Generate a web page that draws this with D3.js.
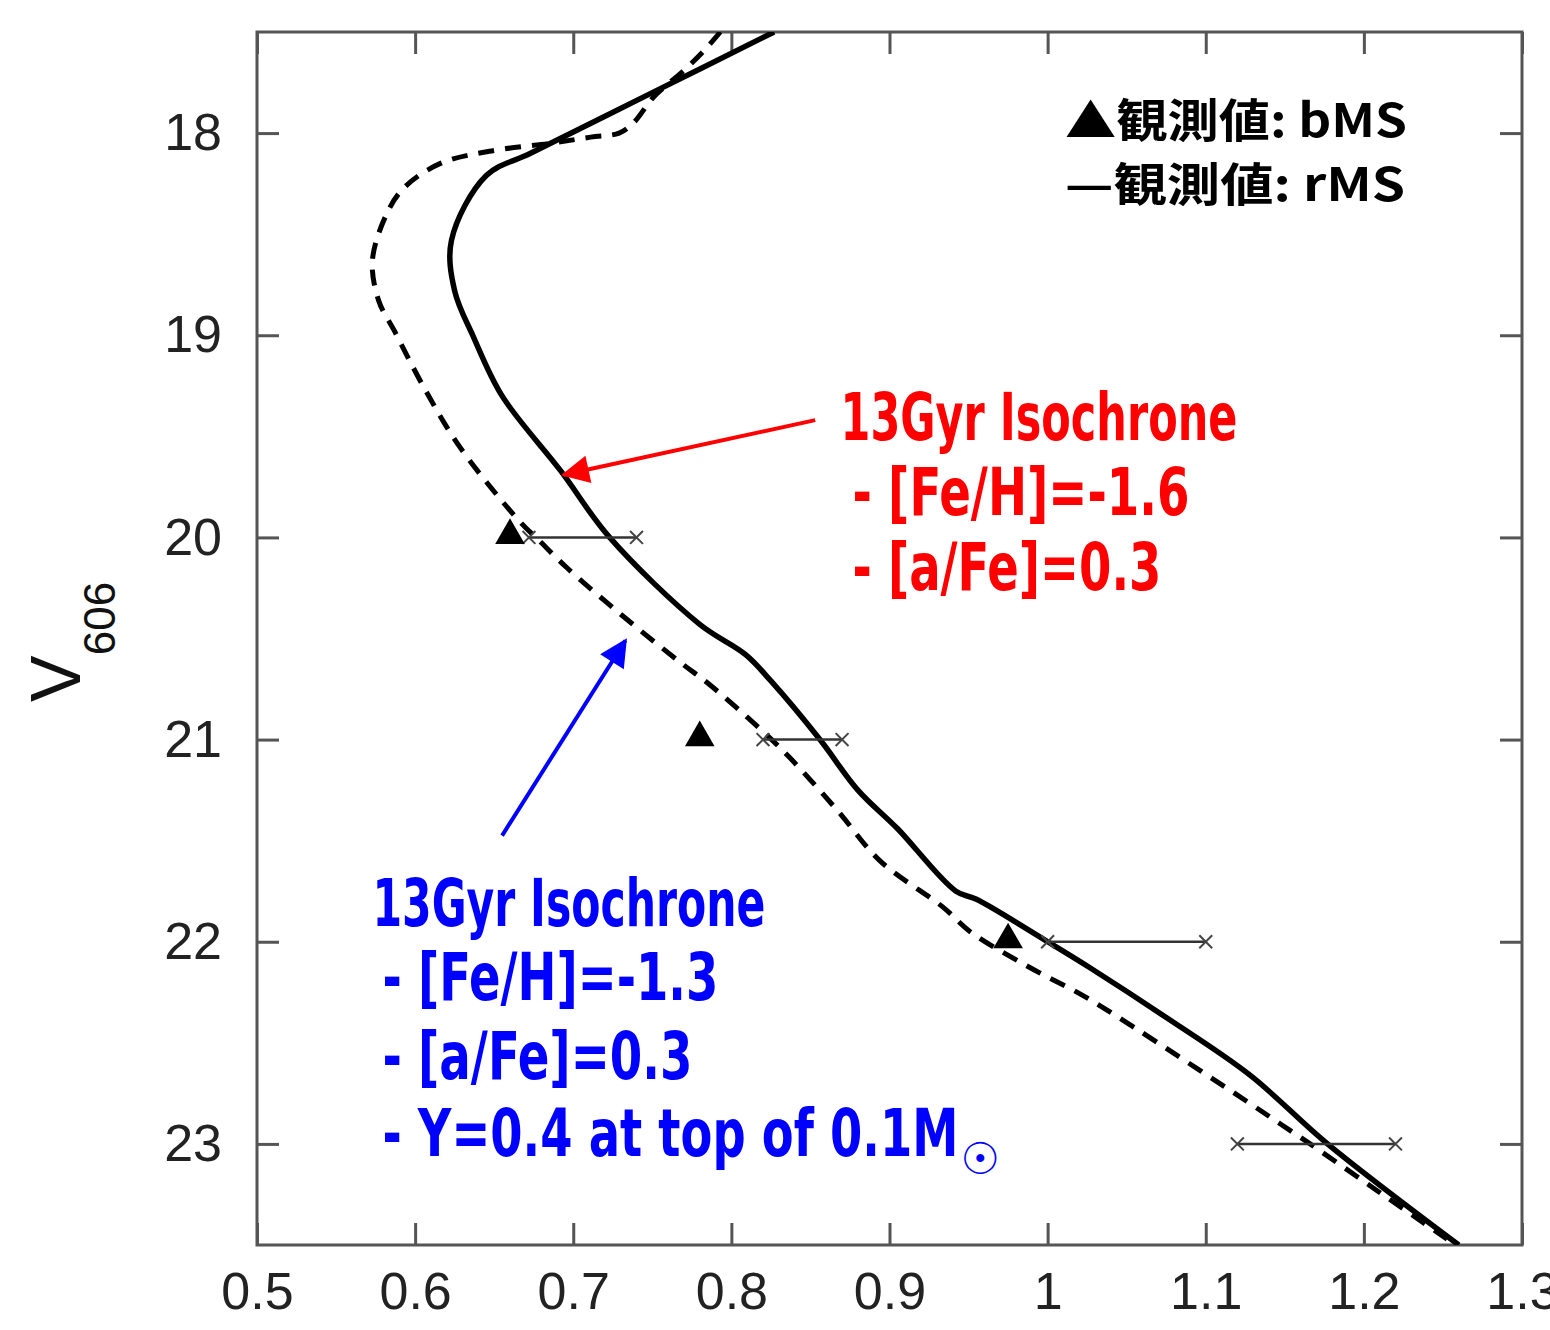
<!DOCTYPE html>
<html>
<head>
<meta charset="utf-8">
<script src="https://cdn.jsdelivr.net/npm/d3@7"></script>
<style>
body { margin: 0; background: #fff; }
</style>
</head>
<body>
<div id="chart"></div>
<script>
// isochrone [Fe/H]=-1.6 (solid)
var solidColor = [0.827, 0.750, 0.673, 0.645, 0.623, 0.625, 0.637, 0.655, 0.692, 0.723, 0.780, 0.809, 0.825, 0.856, 0.880, 0.905, 0.942, 0.955, 1.000, 1.027, 1.076, 1.128, 1.177, 1.260]
var solidMag   = [17.50, 17.80, 18.10, 18.21, 18.53, 18.78, 19.01, 19.30, 19.67, 20.00, 20.43, 20.58, 20.71, 21.00, 21.25, 21.44, 21.75, 21.79, 22.00, 22.13, 22.38, 22.66, 23.00, 23.50]

// isochrone [Fe/H]=-1.3, Y=0.4 (dashed)
var dashColor = [0.793, 0.783, 0.770, 0.751, 0.738, 0.729, 0.711, 0.686, 0.647, 0.616, 0.593, 0.582, 0.573, 0.577, 0.587, 0.605, 0.628, 0.666, 0.679, 0.696, 0.730, 0.768, 0.785, 0.820, 0.837, 0.867, 0.894, 0.934, 0.951, 0.987, 1.021, 1.042, 1.097, 1.128, 1.147, 1.166, 1.210, 1.258]
var dashMag   = [17.50, 17.59, 17.69, 17.82, 17.95, 18.00, 18.02, 18.05, 18.09, 18.15, 18.27, 18.40, 18.63, 18.83, 18.98, 19.25, 19.55, 19.92, 20.02, 20.15, 20.38, 20.62, 20.72, 20.96, 21.09, 21.35, 21.60, 21.83, 21.95, 22.12, 22.26, 22.36, 22.64, 22.80, 22.90, 23.00, 23.24, 23.50]

// observed bMS (triangles)
var bmsColor = [0.660, 0.780, 0.975]
var bmsMag   = [20, 21, 22]

// observed rMS ranges
var rmsMag  = [20, 21, 22, 23]
var rmsLow  = [0.672, 0.820, 1.000, 1.120]
var rmsHigh = [0.740, 0.870, 1.100, 1.220]

var xTicks = [0.5, 0.6, 0.7, 0.8, 0.9, 1.0, 1.1, 1.2, 1.3]
var yTicks = [18, 19, 20, 21, 22, 23]

var redLines  = ["13Gyr Isochrone", "- [Fe/H]=-1.6", "- [a/Fe]=0.3"]
var blueLines = ["13Gyr Isochrone", "- [Fe/H]=-1.3", "- [a/Fe]=0.3", "- Y=0.4 at top of 0.1M"]

var width = 1550
var height = 1330
var margin = {top: 32, right: 28, bottom: 85, left: 257}
var axisColor = "#555"
var noteFont = "'Liberation Sans Narrow', 'DejaVu Sans Condensed', sans-serif"

var x = d3.scaleLinear().domain([0.5, 1.3]).range([margin.left, width - margin.right])
var y = d3.scaleLinear().domain([17.5, 23.5]).range([margin.top, height - margin.bottom])

var svg = d3.select("#chart")
  .append("svg")
  .attr("width", width)
  .attr("height", height)

var defs = svg.append("defs")
defs.append("clipPath")
  .attr("id", "plotArea")
  .append("rect")
  .attr("x", margin.left)
  .attr("y", margin.top)
  .attr("width", x.range()[1] - margin.left)
  .attr("height", y.range()[1] - margin.top)

function arrowHead(id, color) {
  defs.append("marker")
    .attr("id", id)
    .attr("viewBox", "0 0 10 10")
    .attr("refX", 9).attr("refY", 5)
    .attr("markerWidth", 8).attr("markerHeight", 7)
    .attr("markerUnits", "strokeWidth")
    .attr("orient", "auto")
    .append("path")
    .attr("d", "M0,0L10,5L0,10Z")
    .attr("fill", color)
}
arrowHead("headRed", "#ff0000")
arrowHead("headBlue", "#0000ff")

//axes, ticks point inward on all four sides
function styleAxis(g) {
  g.select(".domain").remove()
  g.selectAll(".tick line").attr("stroke", axisColor).attr("stroke-width", 3)
  g.selectAll(".tick text")
    .attr("font-family", "'Liberation Sans', Arial, sans-serif")
    .attr("font-size", 52)
    .attr("fill", "#222")
}

svg.append("g")
  .attr("transform", "translate(0," + y.range()[1] + ")")
  .call(d3.axisBottom(x).tickValues(xTicks).tickFormat(d3.format("")).tickSizeInner(-22).tickSizeOuter(0).tickPadding(27))
  .call(styleAxis)

svg.append("g")
  .attr("transform", "translate(0," + margin.top + ")")
  .call(d3.axisTop(x).tickValues(xTicks).tickFormat("").tickSizeInner(-22).tickSizeOuter(0))
  .call(styleAxis)

svg.append("g")
  .attr("transform", "translate(" + margin.left + ",0)")
  .call(d3.axisLeft(y).tickValues(yTicks).tickFormat(d3.format("d")).tickSizeInner(-22).tickSizeOuter(0).tickPadding(35))
  .call(styleAxis)

svg.append("g")
  .attr("transform", "translate(" + x.range()[1] + ",0)")
  .call(d3.axisRight(y).tickValues(yTicks).tickFormat("").tickSizeInner(-22).tickSizeOuter(0))
  .call(styleAxis)

svg.append("rect")
  .attr("x", margin.left)
  .attr("y", margin.top)
  .attr("width", x.range()[1] - margin.left)
  .attr("height", y.range()[1] - margin.top)
  .attr("fill", "none")
  .attr("stroke", axisColor)
  .attr("stroke-width", 3)

// y label V_606
var ylab = svg.append("text")
  .attr("transform", "translate(80,702) rotate(-90)")
  .attr("font-family", "'Liberation Sans', Arial, sans-serif")
  .attr("fill", "#111")
ylab.append("tspan").attr("font-size", 70).text("V")
ylab.append("tspan").attr("font-size", 44).attr("dy", 35).text("606")

var plot = svg.append("g").attr("clip-path", "url(#plotArea)")

var line = d3.line()
  .x(function(d) { return x(d[0]) })
  .y(function(d) { return y(d[1]) })
  .curve(d3.curveCatmullRom.alpha(0.5))

plot.append("path")
  .datum(d3.zip(dashColor, dashMag))
  .attr("d", line)
  .attr("fill", "none")
  .attr("stroke", "#000")
  .attr("stroke-width", 5)
  .attr("stroke-dasharray", "16,11")
  .attr("stroke-linejoin", "round")

plot.append("path")
  .datum(d3.zip(solidColor, solidMag))
  .attr("d", line)
  .attr("fill", "none")
  .attr("stroke", "#000")
  .attr("stroke-width", 5.5)
  .attr("stroke-linejoin", "round")

// rMS ranges
var rms = plot.selectAll(".rms")
  .data(d3.zip(rmsMag, rmsLow, rmsHigh))
  .enter()
  .append("g")
  .classed("rms", true)

rms.append("line")
  .attr("x1", function(d) { return x(d[1]) })
  .attr("x2", function(d) { return x(d[2]) })
  .attr("y1", function(d) { return y(d[0]) })
  .attr("y2", function(d) { return y(d[0]) })
  .attr("stroke", "#333")
  .attr("stroke-width", 2.5)

var cross = d3.symbol().type(d3.symbolX).size(110)
rms.selectAll(".mark")
  .data(function(d) { return [[d[1], d[0]], [d[2], d[0]]] })
  .enter()
  .append("path")
  .attr("d", cross)
  .attr("transform", function(d) { return "translate(" + x(d[0]) + "," + y(d[1]) + ")" })
  .attr("fill", "none")
  .attr("stroke", "#444")
  .attr("stroke-width", 2)

// bMS triangles
plot.selectAll(".bms")
  .data(d3.zip(bmsColor, bmsMag))
  .enter()
  .append("path")
  .attr("d", d3.symbol().type(d3.symbolTriangle).size(380))
  .attr("transform", function(d) { return "translate(" + x(d[0]) + "," + (y(d[1]) - 2) + ")" })
  .attr("fill", "#000")

// legend
var legend = svg.append("g")
  .attr("font-family", "'Noto Sans CJK JP', sans-serif")
  .attr("font-weight", "bold")
  .attr("font-size", 46)
  .attr("fill", "#000")
legend.append("text").attr("x", 1065).attr("y", 137)
  .attr("textLength", 342).attr("lengthAdjust", "spacingAndGlyphs")
  .text("▲観測値: bMS")
legend.append("text").attr("x", 1065).attr("y", 201)
  .attr("textLength", 340).attr("lengthAdjust", "spacingAndGlyphs")
  .text("—観測値: rMS")

// red annotation
svg.append("line")
  .attr("x1", x(0.853)).attr("y1", y(19.42))
  .attr("x2", x(0.694)).attr("y2", y(19.69))
  .attr("stroke", "#ff0000")
  .attr("stroke-width", 4)
  .attr("marker-end", "url(#headRed)")

var redWidths = [397, 337, 309]
var redBase = [19.52, 19.89, 20.26]
svg.append("g")
  .selectAll("text")
  .data(redLines)
  .enter()
  .append("text")
  .attr("x", function(d, i) { return i == 0 ? x(0.869) : x(0.869) + 12 })
  .attr("y", function(d, i) { return y(redBase[i]) })
  .attr("textLength", function(d, i) { return redWidths[i] })
  .attr("lengthAdjust", "spacingAndGlyphs")
  .attr("font-family", noteFont)
  .attr("font-weight", "bold")
  .attr("font-size", 66)
  .attr("fill", "#ff0000")
  .text(function(d) { return d })

// blue annotation
svg.append("line")
  .attr("x1", x(0.655)).attr("y1", y(21.475))
  .attr("x2", x(0.733)).attr("y2", y(20.51))
  .attr("stroke", "#0000ff")
  .attr("stroke-width", 4)
  .attr("marker-end", "url(#headBlue)")

var blueWidths = [393, 336, 310, 576]
var blueBase = [21.92, 22.29, 22.68, 23.06]
var blueText = svg.append("g")
  .attr("font-family", noteFont)
  .attr("font-weight", "bold")
  .attr("font-size", 66)
  .attr("fill", "#0000ff")
blueText.selectAll("text")
  .data(blueLines)
  .enter()
  .append("text")
  .attr("x", function(d, i) { return i == 0 ? x(0.573) : x(0.573) + 10 })
  .attr("y", function(d, i) { return y(blueBase[i]) })
  .attr("textLength", function(d, i) { return blueWidths[i] })
  .attr("lengthAdjust", "spacingAndGlyphs")
  .text(function(d) { return d })

blueText.append("text")
  .attr("x", x(0.573) + 10 + blueWidths[3] + 2)
  .attr("y", y(blueBase[3]) + 18)
  .attr("font-family", "'DejaVu Sans', sans-serif")
  .attr("font-weight", "normal")
  .attr("font-size", 44)
  .text("☉")
</script>
</body>
</html>
